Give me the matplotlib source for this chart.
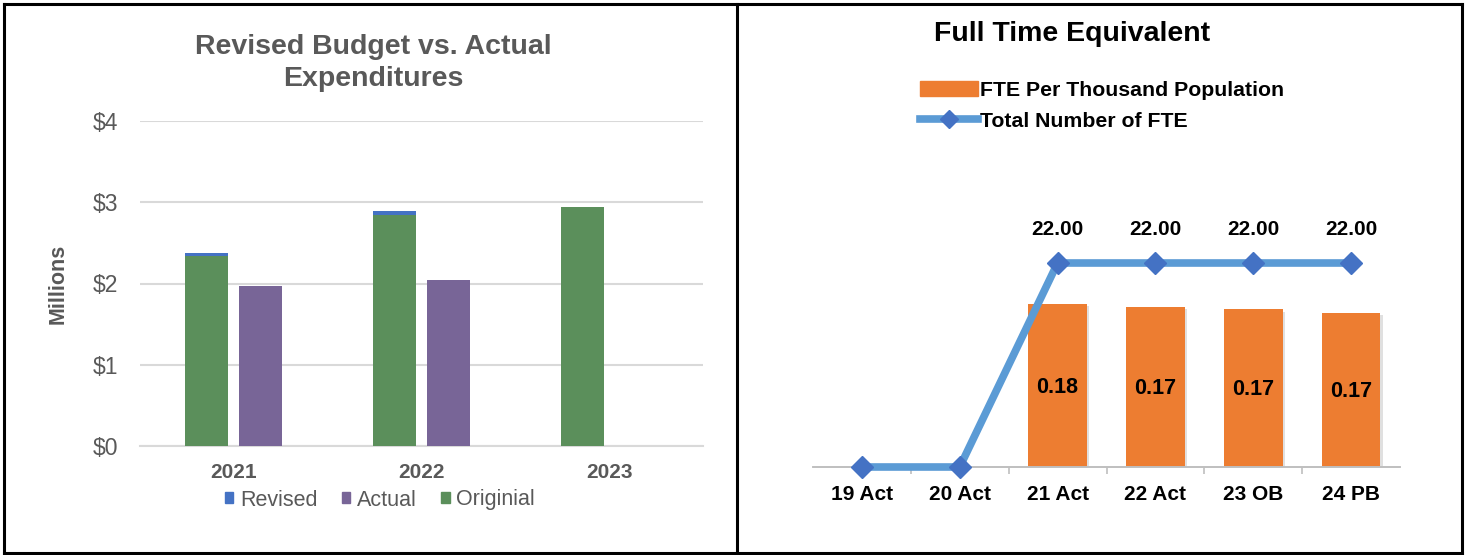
import matplotlib
matplotlib.use("Agg")
import matplotlib.pyplot as plt
import matplotlib.patheffects as pe
from matplotlib.lines import Line2D
from matplotlib.patches import Patch

plt.rcParams["font.family"] = ["Liberation Sans", "DejaVu Sans"]

# left chart data (millions)
years = ["2021", "2022", "2023"]
original = [2.34, 2.84, 2.94]
revised = [0.03, 0.05, 0.0]
actual = [1.97, 2.04, 0.0]

# right chart data
fte_cats = ["19 Act", "20 Act", "21 Act", "22 Act", "23 OB", "24 PB"]
fte_total = [0, 0, 22, 22, 22, 22]
fte_per_k = [None, None, 0.178, 0.175, 0.172, 0.168]
fte_per_k_labels = ["", "", "0.18", "0.17", "0.17", "0.17"]

W, H = 1465, 555
fig = plt.figure(figsize=(W / 100, H / 100), dpi=100)


def box(x0, y0, x1, y1):
    # pixel coords (top-left origin) -> figure fraction
    return [x0 / W, 1 - y1 / H, (x1 - x0) / W, (y1 - y0) / H]


gray = "#595959"
green = "#5b8f5b"
purple = "#786597"
blue = "#4472c4"
orange = "#ed7d31"

# ---- left: revised budget vs actual ----
ax = fig.add_axes(box(140, 121, 703, 446))
xs = range(len(years))
off = 0.144
bw = 0.23
ax.bar([x - off for x in xs], original, bw, color=green, label="Originial", zorder=3)
ax.bar([x - off for x in xs], revised, bw, bottom=original, color=blue, label="Revised", zorder=3)
ax.bar([x + off for x in xs], actual, bw, color=purple, label="Actual", zorder=3)
ax.set_xlim(-0.5, 2.5)
ax.set_ylim(0, 4)
ax.set_yticks([0, 1, 2, 3, 4])
ax.set_yticklabels(["$0", "$1", "$2", "$3", "$4"], fontsize=16.5, color=gray)
ax.set_xticks(list(xs))
ax.set_xticklabels(years, fontsize=15, fontweight="bold", color=gray)
ax.tick_params(axis="y", length=0, pad=16)
ax.tick_params(axis="x", length=0, pad=12)
ax.grid(axis="y", color="#d9d9d9", linewidth=1.5, zorder=0)
for s in ["top", "right", "left"]:
    ax.spines[s].set_visible(False)
ax.spines["bottom"].set_color("#d9d9d9")
ax.spines["bottom"].set_linewidth(1.5)
ax.set_ylabel("Millions", fontsize=15.5, fontweight="bold", color=gray, labelpad=17)
fig.text(373 / W, 1 - 63 / H, "Revised Budget vs. Actual\nExpenditures", ha="center", va="center",
         fontsize=20.5, fontweight="bold", color=gray, linespacing=1.3)
handles = [Patch(color=blue, label="Revised"), Patch(color=purple, label="Actual"),
           Patch(color=green, label="Originial")]
fig.legend(handles=handles, loc="center", bbox_to_anchor=(380 / W, 1 - 500 / H), ncol=3, frameon=False,
           fontsize=15.5, handlelength=0.38, handleheight=0.38, handletextpad=0.3, columnspacing=1.15,
           labelcolor=gray)

# ---- right: full time equivalent ----
top_px, base_px = 121, 467
ax2 = fig.add_axes(box(813, top_px, 1400, base_px))
ax3 = ax2.twinx()
ax2.set_zorder(ax3.get_zorder() + 1)
ax2.patch.set_visible(False)

px = base_px - top_px
xs2 = range(len(fte_cats))
bar_x = [x for x, v in zip(xs2, fte_per_k) if v is not None]
bar_v = [v for v in fte_per_k if v is not None]
ax3.set_ylim(0, 0.178 * px / 163)
bars = ax3.bar(bar_x, bar_v, 0.6, color=orange, zorder=2)
for b in bars:
    b.set_path_effects([pe.SimplePatchShadow(offset=(1.5, -1.5), shadow_rgbFace="#999999", alpha=0.3),
                        pe.Normal()])
for x, v, lab in zip(xs2, fte_per_k, fte_per_k_labels):
    if v is not None:
        ax3.text(x, v * 0.49, lab, ha="center", va="center", fontsize=15.5, fontweight="bold", color="black")

ax2.set_ylim(0, 22 * px / 204)
ax2.plot(list(xs2), fte_total, color="#5b9bd5", linewidth=5.5, marker="D", markersize=11,
         markerfacecolor=blue, markeredgecolor=blue, clip_on=False, zorder=4)
for x, v in zip(xs2, fte_total):
    if v > 0:
        ax2.annotate(f"{v:.2f}", (x, v), textcoords="offset points", xytext=(0, 20), ha="center",
                     fontsize=15, fontweight="bold")

ax2.set_xlim(-0.5, 5.5)
ax2.set_xticks(list(xs2))
ax2.set_xticklabels(fte_cats, fontsize=15, fontweight="bold")
ax2.set_xticks([x + 0.5 for x in range(len(fte_cats) - 1)], minor=True)
ax2.tick_params(axis="x", which="major", length=0, pad=13)
ax2.tick_params(axis="x", which="minor", length=5, direction="out", color="#bfbfbf", width=1.2)
ax2.set_yticks([])
ax3.set_yticks([])
for a in (ax2, ax3):
    for s in ["top", "right", "left"]:
        a.spines[s].set_visible(False)
    a.spines["bottom"].set_color("#bfbfbf")
    a.spines["bottom"].set_linewidth(1.2)

fig.text(1072 / W, 1 - 34 / H, "Full Time Equivalent", ha="center", va="center",
         fontsize=20.5, fontweight="bold")
h2 = [Patch(color=orange, label="FTE Per Thousand Population"),
      Line2D([], [], color="#5b9bd5", linewidth=5.5, marker="D", markersize=9,
             markerfacecolor=blue, markeredgecolor=blue, label="Total Number of FTE")]
fig.legend(handles=h2, loc="upper left", bbox_to_anchor=(901 / W, 1 - 62 / H), frameon=False,
           prop={"weight": "bold", "size": 15.3}, handlelength=2.7, handletextpad=0.1,
           labelspacing=0.55)

# panel borders
lw = 2.2
for (x0, y0, x1, y1) in [(4, 4, 1462, 4), (4, 553, 1462, 553), (4, 4, 4, 553),
                         (1462, 4, 1462, 553), (737, 4, 737, 553)]:
    fig.add_artist(Line2D([x0 / W, x1 / W], [1 - y0 / H, 1 - y1 / H], color="black", linewidth=lw))

fig.savefig("out.png", dpi=100)
